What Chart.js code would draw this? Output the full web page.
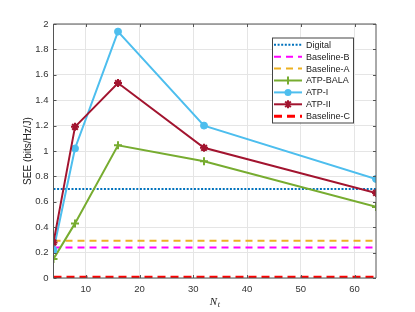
<!DOCTYPE html>
<html><head><meta charset="utf-8">
<script src="https://cdn.jsdelivr.net/npm/chart.js@4/dist/chart.umd.min.js"></script>
<style>html,body{margin:0;padding:0;background:#fff;}#wrap{width:415px;height:312px;}</style>
</head><body><div id="wrap"><canvas id="c" width="415" height="312"></canvas></div>
<script>
const nt = [4, 8, 16, 32, 64];
const atpBala = [0.15, 0.43, 1.045, 0.92, 0.56];
const atpI = [0.22, 1.02, 1.94, 1.2, 0.78];
const atpII = [0.28, 1.19, 1.535, 1.025, 0.67];
const digital = 0.7;
const baselineB = 0.24;
const baselineA = 0.294;
const baselineC = 0.005;
const xTicks = [10, 20, 30, 40, 50, 60];
const yTicks = [0, 0.2, 0.4, 0.6, 0.8, 1, 1.2, 1.4, 1.6, 1.8, 2];
const xRange = [4, 64];
const yTitle = 'SEE (bits/Hz/J)';

function pts(ys){ return nt.map((x,i)=>({x:x,y:ys[i]})); }
function flat(v){ return xRange.map(x=>({x:x,y:v})); }

const FONT = '"Liberation Sans", Arial, sans-serif';

const datasets = [
 {label:'Digital', data:flat(digital), borderColor:'#0072BD', borderWidth:2, borderDash:[2,1.6], pointRadius:0, order:6},
 {label:'Baseline-B', data:flat(baselineB), borderColor:'#FF00FF', borderWidth:2, borderDash:[7,5], pointRadius:0, order:5},
 {label:'Baseline-A', data:flat(baselineA), borderColor:'#EDB120', borderWidth:2, borderDash:[7,5], pointRadius:0, order:4},
 {label:'ATP-BALA', data:pts(atpBala), borderColor:'#77AC30', backgroundColor:'#77AC30', borderWidth:2, pointStyle:'cross', pointRadius:4, pointBorderWidth:2, order:3},
 {label:'ATP-I', data:pts(atpI), borderColor:'#4DBEEE', backgroundColor:'#4DBEEE', borderWidth:2, pointStyle:'circle', pointRadius:3.5, pointBorderWidth:1, order:2},
 {label:'ATP-II', data:pts(atpII), borderColor:'#A2142F', backgroundColor:'#A2142F', borderWidth:2, pointStyle:'star', pointRadius:4, pointBorderWidth:2, order:1},
 {label:'Baseline-C', data:flat(baselineC), borderColor:'#FF0000', borderWidth:3, borderDash:[8,5], pointRadius:0, order:0}
];

const legendPlugin = {
 id:'customLegend',
 afterDraw(chart){
  const ctx = chart.ctx;
  const x0 = 272, y0 = 37.5, w = 81, h = 85;
  ctx.save();
  ctx.fillStyle = '#fff';
  ctx.fillRect(x0, y0, w, h);
  ctx.strokeStyle = '#444';
  ctx.lineWidth = 1;
  ctx.strokeRect(x0+0.5, y0+0.5, w, h);
  ctx.font = '9px ' + FONT;
  ctx.textBaseline = 'middle';
  const rowH = 11.9;
  chart.data.datasets.forEach((ds, i) => {
   const cy = y0 + 7.3 + i*rowH;
   ctx.strokeStyle = ds.borderColor;
   ctx.lineWidth = ds.borderWidth;
   ctx.setLineDash(ds.borderDash ? ds.borderDash : []);
   ctx.beginPath();
   ctx.moveTo(274, cy); ctx.lineTo(302, cy); ctx.stroke();
   ctx.setLineDash([]);
   if (ds.pointRadius) {
    const mx = 288;
    ctx.fillStyle = ds.borderColor;
    ctx.lineWidth = 2;
    const r = ds.pointRadius;
    if (ds.pointStyle === 'circle') {
     ctx.beginPath(); ctx.arc(mx, cy, r, 0, Math.PI*2); ctx.fill();
    } else if (ds.pointStyle === 'cross') {
     ctx.beginPath(); ctx.moveTo(mx, cy-r); ctx.lineTo(mx, cy+r); ctx.stroke();
    } else {
     ctx.beginPath();
     ctx.moveTo(mx-r*0.7, cy-r*0.7); ctx.lineTo(mx+r*0.7, cy+r*0.7);
     ctx.moveTo(mx-r*0.7, cy+r*0.7); ctx.lineTo(mx+r*0.7, cy-r*0.7);
     ctx.moveTo(mx, cy-r); ctx.lineTo(mx, cy+r);
     ctx.stroke();
    }
   }
   ctx.fillStyle = '#222';
   ctx.fillText(ds.label, 306, cy + 0.5);
  });
  ctx.restore();
 }
};

const framePlugin = {
 id:'frame',
 afterDatasetsDraw(chart){
  const {ctx, chartArea:a, scales:{x, y}} = chart;
  ctx.save();
  ctx.strokeStyle = '#555';
  ctx.lineWidth = 1;
  ctx.beginPath();
  ctx.rect(a.left, a.top, a.right-a.left, a.bottom-a.top);
  ctx.stroke();
  ctx.beginPath();
  xTicks.forEach(v=>{ const px = Math.round(x.getPixelForValue(v))+0.5;
    ctx.moveTo(px, a.bottom); ctx.lineTo(px, a.bottom-3);
    ctx.moveTo(px, a.top); ctx.lineTo(px, a.top+3); });
  yTicks.forEach(v=>{ const py = Math.round(y.getPixelForValue(v))+0.5;
    ctx.moveTo(a.left, py); ctx.lineTo(a.left+3, py);
    ctx.moveTo(a.right, py); ctx.lineTo(a.right-3, py); });
  ctx.stroke();
  // x title N_t
  ctx.fillStyle = '#222';
  ctx.textBaseline = 'alphabetic';
  ctx.font = 'italic 11px "Liberation Serif", "Times New Roman", serif';
  const tx = (a.left + a.right)/2;
  ctx.fillText('N', tx - 5, 305);
  ctx.font = 'italic 8px "Liberation Serif", "Times New Roman", serif';
  ctx.fillText('t', tx + 3, 307);
  // y title
  ctx.translate(28, (a.top + a.bottom)/2);
  ctx.rotate(-Math.PI/2);
  ctx.textAlign = 'center';
  ctx.textBaseline = 'middle';
  ctx.font = '10px ' + FONT;
  ctx.fillText(yTitle, 0, 0);
  ctx.restore();
 }
};

new Chart(document.getElementById('c'), {
 type:'line',
 data:{datasets:datasets},
 options:{
  responsive:false, animation:false, devicePixelRatio:1,
  layout:{padding:{left:0, right:39, top:24, bottom:0}},
  plugins:{legend:{display:false}, tooltip:{enabled:false}},
  elements:{line:{tension:0}},
  scales:{
   x:{type:'linear', min:xRange[0], max:xRange[1],
      afterBuildTicks(s){ s.ticks = xTicks.map(v=>({value:v})); },
      afterFit(s){ s.height = 34; },
      grid:{color:'#e5e5e5', drawTicks:false},
      border:{display:false},
      ticks:{padding:6, color:'#333', font:{family:FONT, size:9.5}}
   },
   y:{type:'linear', min:0, max:2,
      afterBuildTicks(s){ s.ticks = yTicks.map(v=>({value:v})); },
      afterFit(s){ s.width = 53.5; },
      grid:{color:'#e5e5e5', drawTicks:false},
      border:{display:false},
      title:{display:false},
      ticks:{padding:5, color:'#333', font:{family:FONT, size:9.5}, callback:v=>String(Math.round(v*10)/10)}
   }
  }
 },
 plugins:[framePlugin, legendPlugin]
});
</script></body></html>
